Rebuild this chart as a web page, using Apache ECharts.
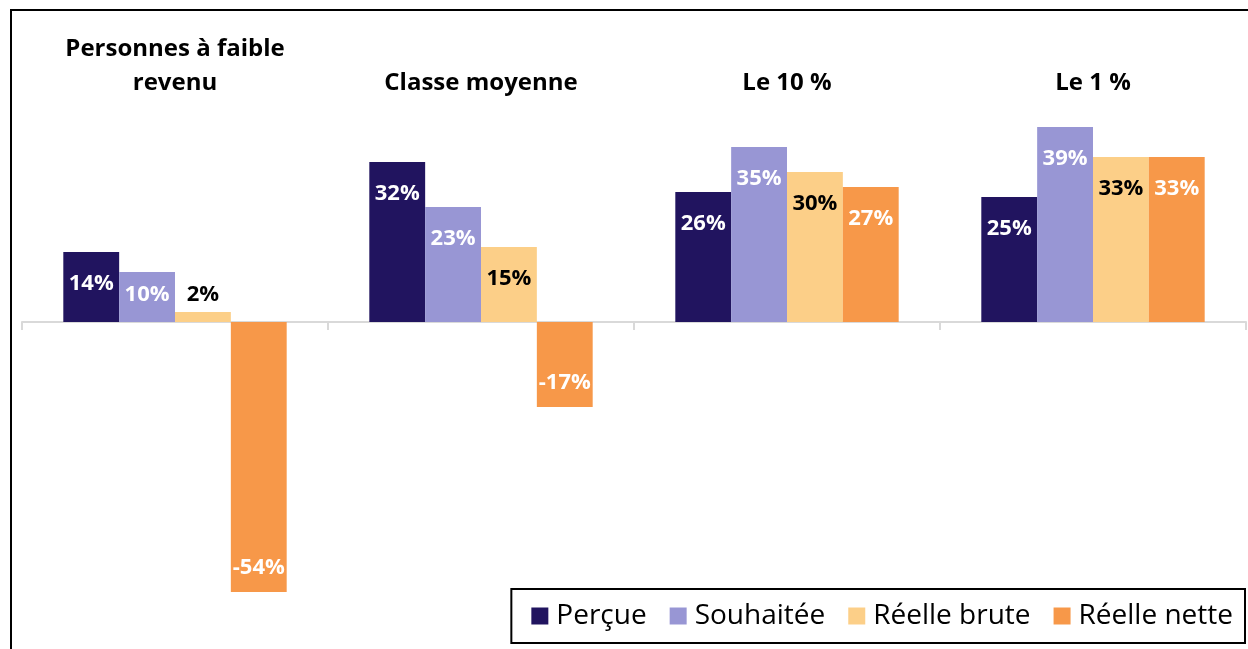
<!DOCTYPE html>
<html><head><meta charset="utf-8">
<script src="https://cdn.jsdelivr.net/npm/echarts@6/dist/echarts.min.js"></script>
<style>html,body{margin:0;padding:0;background:#fff}#c{width:1248px;height:649px}</style>
</head><body><div id="c"></div>
<script>
const categories = ['Personnes à faible\nrevenu', 'Classe moyenne', 'Le 10 %', 'Le 1 %'];
const seriesNames = ['Perçue', 'Souhaitée', 'Réelle brute', 'Réelle nette'];
const percue = [14, 32, 26, 25];
const souhaitee = [10, 23, 35, 39];
const reelleBrute = [2, 15, 30, 33];
const reelleNette = [-54, -17, 27, 33];
const colors = ['#21145f', '#9896d4', '#fccf88', '#f79849'];
const labelColors = ['#ffffff', '#ffffff', '#000000', '#ffffff'];

const FONT = 'Open Sans';
const allValues = [percue, souhaitee, reelleBrute, reelleNette];

function makeData(vals) {
  return vals.map(v => {
    let label;
    if (v < 0) {
      label = { position: 'insideBottom', distance: 13 };
    } else if (v < 5) {
      label = { position: 'top', distance: 6, color: '#000000' };
    } else if (v < 12) {
      label = { position: 'insideTop', distance: 12 };
    } else {
      label = { position: 'insideTop', distance: 21 };
    }
    return { value: v, label: label };
  });
}

const series = allValues.map((vals, i) => ({
  name: seriesNames[i],
  type: 'bar',
  xAxisIndex: 0,
  barGap: '0%',
  barCategoryGap: '27%',
  itemStyle: { color: colors[i] },
  label: {
    show: true,
    color: labelColors[i],
    fontFamily: FONT,
    fontWeight: 'bold',
    fontSize: 22,
    formatter: p => p.value + '%'
  },
  data: makeData(vals)
}));

const chart = echarts.init(document.getElementById('c'), null, { renderer: 'canvas' });
chart.setOption({
  animation: false,
  textStyle: { fontFamily: FONT },
  grid: { left: 22, right: 2, top: 122, height: 500, containLabel: false },
  xAxis: [
    {
      type: 'category',
      data: categories,
      position: 'bottom',
      axisLine: { show: true, onZero: true, lineStyle: { color: '#d9d9d9', width: 2 } },
      axisTick: { show: true, length: 8, lineStyle: { color: '#d9d9d9', width: 2 } },
      axisLabel: { show: false },
      splitLine: { show: false }
    },
    {
      type: 'category',
      data: categories,
      position: 'top',
      axisLine: { show: false },
      axisTick: { show: false },
      axisLabel: {
        show: true, margin: 22, fontFamily: FONT, fontWeight: 'bold', fontSize: 24,
        color: '#000000', lineHeight: 34, align: 'center'
      },
      splitLine: { show: false }
    }
  ],
  yAxis: {
    type: 'value', min: -60, max: 40, interval: 10,
    show: false, splitLine: { show: false }
  },
  legend: {
    data: seriesNames,
    right: 3, bottom: 6,
    orient: 'horizontal',
    borderColor: '#000000', borderWidth: 2,
    padding: [13, 12, 13, 20],
    itemWidth: 17, itemHeight: 17, itemGap: 23,
    icon: 'rect',
    textStyle: { fontFamily: FONT, fontSize: 28, color: '#000000', padding: [0, 0, 0, 3] }
  },
  graphic: [{
    type: 'polyline',
    shape: { points: [[1260, 10], [11, 10], [11, 660]] },
    style: { stroke: '#000000', lineWidth: 2, fill: null },
    silent: true
  }],
  series: series
});
</script>
</body></html>
